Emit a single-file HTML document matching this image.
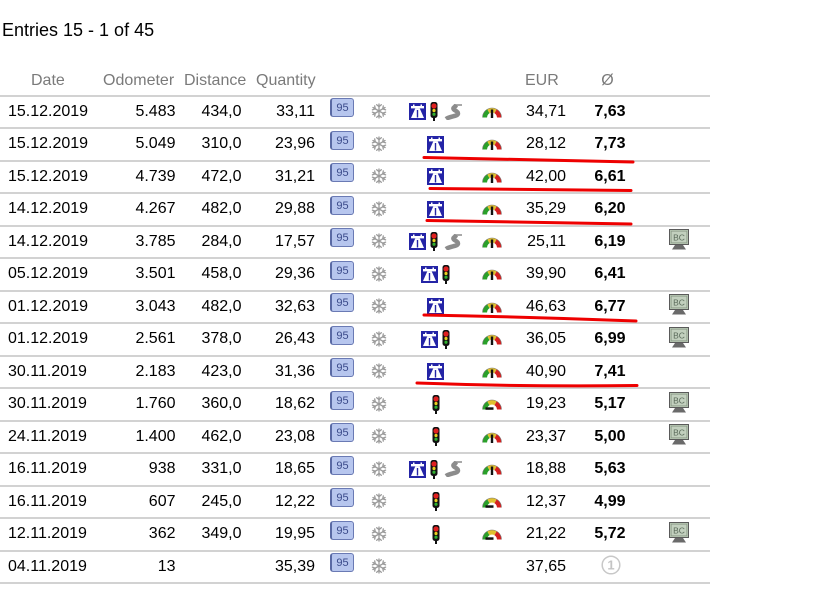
<!DOCTYPE html>
<html><head><meta charset="utf-8">
<style>
html,body{margin:0;padding:0;background:#fff;}
body{width:817px;height:606px;position:relative;overflow:hidden;font-family:"Liberation Sans",Arial,sans-serif;color:#000;}
.t{position:absolute;left:2px;top:15px;height:30px;line-height:30px;font-size:18px;}
.h{position:absolute;top:66px;height:30px;line-height:30px;font-size:16px;color:#7a7a7a;}
.l{position:absolute;left:0;width:710px;height:2px;background:#d2d2d2;}
.r{position:absolute;left:0;width:710px;height:30px;line-height:30px;font-size:16px;}
.r>div,.r>svg{position:absolute;}
.r>.d{left:8px;}
.r>.o{left:95px;width:80.5px;text-align:right;}
.r>.di{left:180px;width:61.5px;text-align:right;}
.r>.q{left:250px;width:65px;text-align:right;}
.r>.b95{left:330px;top:1.5px;width:24px;height:19px;box-sizing:border-box;padding-top:1px;border:1px solid #6a7ab4;border-left:2px solid #5a6aa4;border-radius:3px;background:#b7c6ee;font-size:11px;line-height:16px;color:#3a4a8a;text-align:center;}
.r>.sn{left:371px;top:6.5px;width:16px;height:16px;}
.r>.ic{left:395px;width:81px;top:0;height:30px;display:flex;justify-content:center;align-items:center;gap:4.5px;}
.ic svg{display:block;}
.r>.g{left:482px;top:8px;width:20px;height:13px;}
.r>.e{left:500px;width:66px;text-align:right;}
.r>.a{left:570px;width:55.5px;text-align:right;font-weight:bold;}
.r>.bc{left:669px;top:2.5px;width:20px;height:21px;}
.ov{position:absolute;left:0;top:0;}
</style></head><body>
<svg width="0" height="0" style="position:absolute">
<defs>
<symbol id="mw" viewBox="0 0 17 17">
<rect width="17" height="17" fill="#2424a6"/>
<rect x="2" y="3" width="13" height="2.4" fill="#fff"/>
<rect x="4" y="1.5" width="1.5" height="2" fill="#fff"/>
<rect x="11.5" y="1.5" width="1.5" height="2" fill="#fff"/>
<path d="M6.3 5.4 L10.7 5.4 L15 15 L2 15 Z" fill="#fff"/>
<path d="M8.5 7 V14.5" stroke="#2424a6" stroke-width="1.4"/>
</symbol>
<symbol id="tl" viewBox="0 0 8 19">
<rect x="0.5" y="0" width="7" height="16" rx="2.5" fill="#111"/>
<rect x="3" y="15" width="2" height="4" fill="#111"/>
<circle cx="4" cy="4" r="2.6" fill="#e02020"/>
<circle cx="4" cy="8.5" r="1.6" fill="#e8d020"/>
<circle cx="4" cy="12.2" r="1.6" fill="#30b030"/>
</symbol>
<symbol id="cr" viewBox="0 0 20 16">
<path d="M3 15 C7 12 15 12.5 15 9.5 C15 6.5 9.5 6.5 10.5 4 L13.5 1" stroke="#8c8c8c" stroke-width="4.5" fill="none"/>
<path d="M13 1 L19 1" stroke="#8c8c8c" stroke-width="1.5"/>
</symbol>
<symbol id="snow" viewBox="-8 -8 16 16">
<g stroke="#9a9a9a" stroke-width="1.3" fill="none" stroke-linecap="round">
<g id="arm"><path d="M0 0 V-7"/><path d="M-2.3 -6.3 L0 -4.3 L2.3 -6.3"/></g>
<use href="#arm" transform="rotate(60)"/>
<use href="#arm" transform="rotate(120)"/>
<use href="#arm" transform="rotate(180)"/>
<use href="#arm" transform="rotate(240)"/>
<use href="#arm" transform="rotate(300)"/>
</g>
</symbol>
<symbol id="gu" viewBox="0 0 20 13">
<path d="M10 12.5 L0.5 12.5 A9.5 9.5 0 0 1 5.25 4.27 Z" fill="#2aa02a"/>
<path d="M10 12.5 L5.25 4.27 A9.5 9.5 0 0 1 14.75 4.27 Z" fill="#e0c030"/>
<path d="M10 12.5 L14.75 4.27 A9.5 9.5 0 0 1 19.5 12.5 Z" fill="#d42020"/>
<path d="M5 12.5 A5 5 0 0 1 15 12.5 Z" fill="#fff"/>
<path d="M0.5 12.5 A9.5 9.5 0 0 1 19.5 12.5" stroke="#777" stroke-width="0.6" fill="none"/>
<rect x="8.8" y="4.5" width="2.4" height="8.5" fill="#111"/>
</symbol>
<symbol id="gl" viewBox="0 0 20 13">
<path d="M10 12.5 L0.5 12.5 A9.5 9.5 0 0 1 5.25 4.27 Z" fill="#2aa02a"/>
<path d="M10 12.5 L5.25 4.27 A9.5 9.5 0 0 1 14.75 4.27 Z" fill="#e0c030"/>
<path d="M10 12.5 L14.75 4.27 A9.5 9.5 0 0 1 19.5 12.5 Z" fill="#d42020"/>
<path d="M5 12.5 A5 5 0 0 1 15 12.5 Z" fill="#fff"/>
<path d="M0.5 12.5 A9.5 9.5 0 0 1 19.5 12.5" stroke="#777" stroke-width="0.6" fill="none"/>
<rect x="3.5" y="10.3" width="8" height="2.5" fill="#111"/>
</symbol>
<symbol id="bcm" viewBox="0 0 20 21">
<rect x="0.5" y="0.5" width="19" height="15" fill="#b4c4b0" stroke="#5a5a5a"/>
<rect x="2.2" y="2.2" width="15.6" height="11.6" fill="#c2d0be" stroke="#8a9a88" stroke-width="0.7"/>
<text x="10" y="11.3" font-size="8.5" text-anchor="middle" fill="#5a6a5a" font-family="Liberation Sans, sans-serif">BC</text>
<path d="M6 16 L14 16 L17 20.5 L3 20.5 Z" fill="#6a6a6a"/>
</symbol>
</defs>
</svg>

<div class="t">Entries 15 - 1 of 45</div>

<div class="h" style="left:31px">Date</div>
<div class="h" style="left:103px">Odometer</div>
<div class="h" style="left:184px">Distance</div>
<div class="h" style="left:256px">Quantity</div>
<div class="h" style="left:525px">EUR</div>
<div class="h" style="left:597px;width:21px;text-align:center">Ø</div>

<div class="l" style="top:94.5px"></div>
<div class="l" style="top:127px"></div>
<div class="l" style="top:159.5px"></div>
<div class="l" style="top:192px"></div>
<div class="l" style="top:224.5px"></div>
<div class="l" style="top:257px"></div>
<div class="l" style="top:289.5px"></div>
<div class="l" style="top:322px"></div>
<div class="l" style="top:354.5px"></div>
<div class="l" style="top:387px"></div>
<div class="l" style="top:419.5px"></div>
<div class="l" style="top:452px"></div>
<div class="l" style="top:484.5px"></div>
<div class="l" style="top:517px"></div>
<div class="l" style="top:549.5px"></div>
<div class="l" style="top:582px"></div>

<div class="r" style="top:96.5px"><div class="d">15.12.2019</div><div class="o">5.483</div><div class="di">434,0</div><div class="q">33,11</div><div class="b95">95</div><svg class="sn"><use href="#snow"/></svg><div class="ic"><svg width="17" height="17"><use href="#mw"/></svg><svg width="8" height="19"><use href="#tl"/></svg><svg width="20" height="16"><use href="#cr"/></svg></div><svg class="g"><use href="#gu"/></svg><div class="e">34,71</div><div class="a">7,63</div></div>

<div class="r" style="top:129px"><div class="d">15.12.2019</div><div class="o">5.049</div><div class="di">310,0</div><div class="q">23,96</div><div class="b95">95</div><svg class="sn"><use href="#snow"/></svg><div class="ic"><svg width="17" height="17"><use href="#mw"/></svg></div><svg class="g"><use href="#gu"/></svg><div class="e">28,12</div><div class="a">7,73</div></div>

<div class="r" style="top:161.5px"><div class="d">15.12.2019</div><div class="o">4.739</div><div class="di">472,0</div><div class="q">31,21</div><div class="b95">95</div><svg class="sn"><use href="#snow"/></svg><div class="ic"><svg width="17" height="17"><use href="#mw"/></svg></div><svg class="g"><use href="#gu"/></svg><div class="e">42,00</div><div class="a">6,61</div></div>

<div class="r" style="top:194px"><div class="d">14.12.2019</div><div class="o">4.267</div><div class="di">482,0</div><div class="q">29,88</div><div class="b95">95</div><svg class="sn"><use href="#snow"/></svg><div class="ic"><svg width="17" height="17"><use href="#mw"/></svg></div><svg class="g"><use href="#gu"/></svg><div class="e">35,29</div><div class="a">6,20</div></div>

<div class="r" style="top:226.5px"><div class="d">14.12.2019</div><div class="o">3.785</div><div class="di">284,0</div><div class="q">17,57</div><div class="b95">95</div><svg class="sn"><use href="#snow"/></svg><div class="ic"><svg width="17" height="17"><use href="#mw"/></svg><svg width="8" height="19"><use href="#tl"/></svg><svg width="20" height="16"><use href="#cr"/></svg></div><svg class="g"><use href="#gu"/></svg><div class="e">25,11</div><div class="a">6,19</div><svg class="bc"><use href="#bcm"/></svg></div>

<div class="r" style="top:259px"><div class="d">05.12.2019</div><div class="o">3.501</div><div class="di">458,0</div><div class="q">29,36</div><div class="b95">95</div><svg class="sn"><use href="#snow"/></svg><div class="ic"><svg width="17" height="17"><use href="#mw"/></svg><svg width="8" height="19"><use href="#tl"/></svg></div><svg class="g"><use href="#gu"/></svg><div class="e">39,90</div><div class="a">6,41</div></div>

<div class="r" style="top:291.5px"><div class="d">01.12.2019</div><div class="o">3.043</div><div class="di">482,0</div><div class="q">32,63</div><div class="b95">95</div><svg class="sn"><use href="#snow"/></svg><div class="ic"><svg width="17" height="17"><use href="#mw"/></svg></div><svg class="g"><use href="#gu"/></svg><div class="e">46,63</div><div class="a">6,77</div><svg class="bc"><use href="#bcm"/></svg></div>

<div class="r" style="top:324px"><div class="d">01.12.2019</div><div class="o">2.561</div><div class="di">378,0</div><div class="q">26,43</div><div class="b95">95</div><svg class="sn"><use href="#snow"/></svg><div class="ic"><svg width="17" height="17"><use href="#mw"/></svg><svg width="8" height="19"><use href="#tl"/></svg></div><svg class="g"><use href="#gu"/></svg><div class="e">36,05</div><div class="a">6,99</div><svg class="bc"><use href="#bcm"/></svg></div>

<div class="r" style="top:356.5px"><div class="d">30.11.2019</div><div class="o">2.183</div><div class="di">423,0</div><div class="q">31,36</div><div class="b95">95</div><svg class="sn"><use href="#snow"/></svg><div class="ic"><svg width="17" height="17"><use href="#mw"/></svg></div><svg class="g"><use href="#gu"/></svg><div class="e">40,90</div><div class="a">7,41</div></div>

<div class="r" style="top:389px"><div class="d">30.11.2019</div><div class="o">1.760</div><div class="di">360,0</div><div class="q">18,62</div><div class="b95">95</div><svg class="sn"><use href="#snow"/></svg><div class="ic"><svg width="8" height="19"><use href="#tl"/></svg></div><svg class="g"><use href="#gl"/></svg><div class="e">19,23</div><div class="a">5,17</div><svg class="bc"><use href="#bcm"/></svg></div>

<div class="r" style="top:421.5px"><div class="d">24.11.2019</div><div class="o">1.400</div><div class="di">462,0</div><div class="q">23,08</div><div class="b95">95</div><svg class="sn"><use href="#snow"/></svg><div class="ic"><svg width="8" height="19"><use href="#tl"/></svg></div><svg class="g"><use href="#gu"/></svg><div class="e">23,37</div><div class="a">5,00</div><svg class="bc"><use href="#bcm"/></svg></div>

<div class="r" style="top:454px"><div class="d">16.11.2019</div><div class="o">938</div><div class="di">331,0</div><div class="q">18,65</div><div class="b95">95</div><svg class="sn"><use href="#snow"/></svg><div class="ic"><svg width="17" height="17"><use href="#mw"/></svg><svg width="8" height="19"><use href="#tl"/></svg><svg width="20" height="16"><use href="#cr"/></svg></div><svg class="g"><use href="#gu"/></svg><div class="e">18,88</div><div class="a">5,63</div></div>

<div class="r" style="top:486.5px"><div class="d">16.11.2019</div><div class="o">607</div><div class="di">245,0</div><div class="q">12,22</div><div class="b95">95</div><svg class="sn"><use href="#snow"/></svg><div class="ic"><svg width="8" height="19"><use href="#tl"/></svg></div><svg class="g"><use href="#gl"/></svg><div class="e">12,37</div><div class="a">4,99</div></div>

<div class="r" style="top:519px"><div class="d">12.11.2019</div><div class="o">362</div><div class="di">349,0</div><div class="q">19,95</div><div class="b95">95</div><svg class="sn"><use href="#snow"/></svg><div class="ic"><svg width="8" height="19"><use href="#tl"/></svg></div><svg class="g"><use href="#gl"/></svg><div class="e">21,22</div><div class="a">5,72</div><svg class="bc"><use href="#bcm"/></svg></div>

<div class="r" style="top:551.5px"><div class="d">04.11.2019</div><div class="o">13</div><div class="q">35,39</div><div class="b95">95</div><svg class="sn"><use href="#snow"/></svg><div class="e">37,65</div><svg style="left:601px;top:3px;width:20px;height:20px" viewBox="0 0 20 20"><circle cx="10" cy="10" r="8.8" fill="none" stroke="#c8c8c8" stroke-width="1.5"/><text x="10" y="14.6" font-size="13" font-weight="bold" text-anchor="middle" fill="#c4c4c4" font-family="Liberation Sans, sans-serif">1</text></svg></div>

<svg class="ov" width="817" height="606">
<g stroke="#ee0000" stroke-width="3" fill="none" stroke-linecap="round">
<path d="M424 157.5 Q530 159.5 633 162"/>
<path d="M430 188.5 Q530 189.5 631 190.5"/>
<path d="M427 220.5 Q530 222 631 224"/>
<path d="M424 315 Q530 317 636 321"/>
<path d="M417 383 Q530 387 637 385.5"/>
</g>
</svg>
</body></html>
